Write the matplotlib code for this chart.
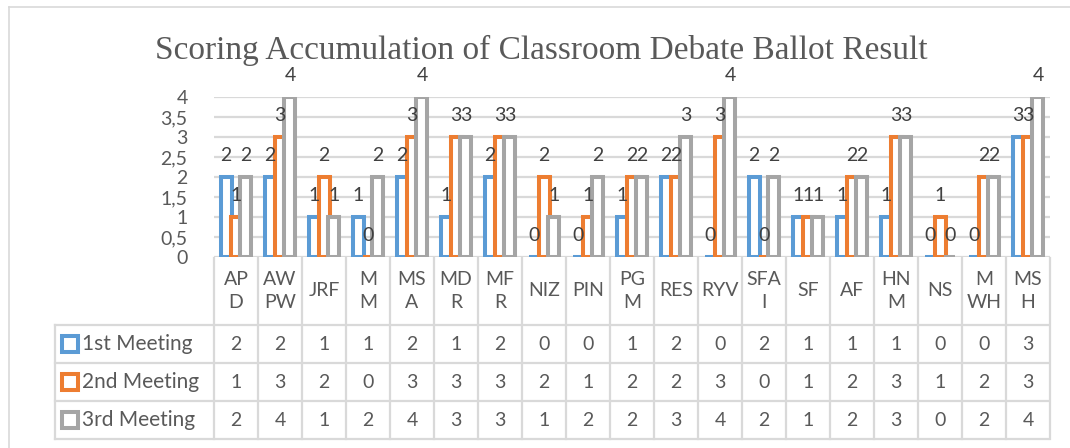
import matplotlib
matplotlib.use("Agg")
import matplotlib.pyplot as plt
from matplotlib.lines import Line2D
from matplotlib.patches import Rectangle
import matplotlib.transforms as mtransforms
import numpy as np

categories = ["AP\nD", "AW\nPW", "JRF", "M\nM", "MS\nA", "MD\nR", "MF\nR", "NIZ", "PIN",
              "PG\nM", "RES", "RYV", "SFA\nI", "SF", "AF", "HN\nM", "NS", "M\nWH", "MS\nH"]
series_names = ["1st Meeting", "2nd Meeting", "3rd Meeting"]
meeting1 = [2, 2, 1, 1, 2, 1, 2, 0, 0, 1, 2, 0, 2, 1, 1, 1, 0, 0, 3]
meeting2 = [1, 3, 2, 0, 3, 3, 3, 2, 1, 2, 2, 3, 0, 1, 2, 3, 1, 2, 3]
meeting3 = [2, 4, 1, 2, 4, 3, 3, 1, 2, 2, 3, 4, 2, 1, 2, 3, 0, 2, 4]
yticks = [0, 0.5, 1, 1.5, 2, 2.5, 3, 3.5, 4]
ytick_labels = ["0", "0,5", "1", "1,5", "2", "2,5", "3", "3,5", "4"]
title = "Scoring Accumulation of Classroom Debate Ballot Result"

colors = ["#5B9BD5", "#ED7D31", "#A5A5A5"]
grid_c = "#D9D9D9"
text_c = "#595959"
label_c = "#404040"
FONT = ["Lato", "DejaVu Sans"]

W, H = 1070, 448
fig = plt.figure(figsize=(W / 100, H / 100), dpi=100)
fig.patch.set_facecolor("white")

def fx(x):
    return x / W

def fy(y):
    return 1 - y / H

# plot area in pixels
x0, x1 = 214, 1050
y_top, y_bot = 97, 257
ax = fig.add_axes([fx(x0), fy(y_bot), fx(x1) - fx(x0), (y_bot - y_top) / H])
n = len(categories)
ax.set_xlim(-0.5, n - 0.5)
ax.set_ylim(0, 4)
for s in ax.spines.values():
    s.set_visible(False)
ax.set_facecolor("none")
ax.set_xticks([])
ax.set_yticks(yticks)
ax.set_yticklabels(ytick_labels, fontfamily=FONT, fontsize=14, color=text_c)
ax.tick_params(axis="y", length=0, pad=19)
ax.yaxis.grid(True, color=grid_c, linewidth=1.6, zorder=0)
ax.set_axisbelow(True)

xs = np.arange(n)
offs = [-0.227, 0.0, 0.227]
bw = 0.25
data = [meeting1, meeting2, meeting3]
for k, (vals, c) in enumerate(zip(data, colors)):
    ax.bar(xs + offs[k], vals, width=bw, facecolor="white", edgecolor=c,
           linewidth=2.9, zorder=2 + k)
for k, vals in enumerate(data):
    for i, v in enumerate(vals):
        ax.text(xs[i] + offs[k], v + 0.55, str(v), ha="center", va="center",
                fontfamily=FONT, fontsize=14, color=label_c, zorder=10, clip_on=False)

# title
fig.text(fx(541), fy(50), title, ha="center", va="center",
         fontfamily=["Liberation Serif", "DejaVu Serif"], fontsize=24, color=text_c)

# outer chart border (top & left visible)
fig.add_artist(Line2D([fx(9), fx(9)], [fy(7), fy(460)], color=grid_c, lw=1.2,
                      transform=fig.transFigure))
fig.add_artist(Line2D([fx(9), fx(1080)], [fy(7), fy(7)], color=grid_c, lw=1.2,
                      transform=fig.transFigure))

# data table
tb = mtransforms.blended_transform_factory(ax.transData, fig.transFigure)
tcol = "#D9D9D9"
row_lines = [325, 363, 401, 439]
left_px = 55
for yy in row_lines:
    fig.add_artist(Line2D([fx(left_px), fx(1048)], [fy(yy), fy(yy)], color=tcol, lw=1.6,
                          transform=fig.transFigure))
for i in range(n + 1):
    xv = i - 0.5
    ax.add_artist(Line2D([xv, xv], [fy(258), fy(439)], color=tcol, lw=1.6,
                         transform=tb, clip_on=False))
fig.add_artist(Line2D([fx(left_px), fx(left_px)], [fy(325), fy(439)], color=tcol, lw=1.6,
                      transform=fig.transFigure))

# category labels
for i, c in enumerate(categories):
    ax.text(xs[i], fy(291), c, transform=tb, ha="center", va="center", clip_on=False,
            fontfamily=FONT, fontsize=14, color=text_c, linespacing=1.45)

# rows
row_centers = [344, 382, 420]
for k, (name, vals, c) in enumerate(zip(series_names, data, colors)):
    yc = row_centers[k]
    fig.add_artist(Rectangle((fx(62), fy(yc + 8)), fx(16), 16 / H, facecolor="white",
                             edgecolor=c, lw=2.9, transform=fig.transFigure))
    fig.text(fx(82), fy(yc), name, ha="left", va="center", fontfamily=FONT,
             fontsize=15, color=text_c)
    for i, v in enumerate(vals):
        ax.text(xs[i], fy(yc), str(v), transform=tb, ha="center", va="center",
                clip_on=False, fontfamily=FONT, fontsize=14, color=text_c)

fig.savefig("out.png", dpi=100, facecolor="white")
